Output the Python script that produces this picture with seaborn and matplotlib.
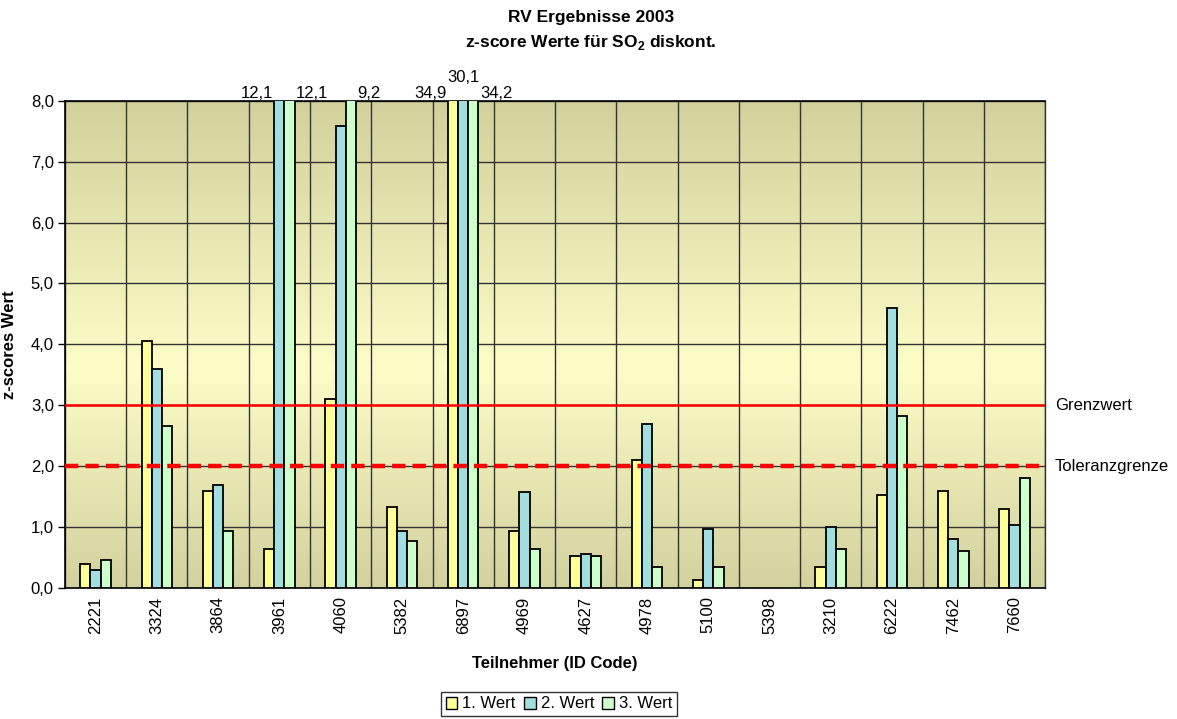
import numpy as np
import pandas as pd
import matplotlib
matplotlib.use("Agg")
import matplotlib.pyplot as plt
from matplotlib.colors import LinearSegmentedColormap
from matplotlib.ticker import FixedLocator, FuncFormatter
import seaborn as sns

# ---- data ----
participants = ["2221", "3324", "3864", "3961", "4060", "5382", "6897", "4969",
                 "4627", "4978", "5100", "5398", "3210", "6222", "7462", "7660"]
wert1 = [0.40, 4.06, 1.60, 0.64, 3.10, 1.33, 34.9, 0.94, 0.53, 2.10, 0.14, np.nan, 0.34, 1.53, 1.60, 1.30]
wert2 = [0.30, 3.60, 1.70, 12.1, 7.59, 0.94, 30.1, 1.57, 0.56, 2.70, 0.97, np.nan, 1.00, 4.59, 0.81, 1.04]
wert3 = [0.47, 2.66, 0.94, 12.1, 9.2, 0.77, 34.2, 0.64, 0.53, 0.34, 0.34, np.nan, 0.64, 2.83, 0.61, 1.80]
series_names = ["1. Wert", "2. Wert", "3. Wert"]
grenzwert = 3.0
toleranzgrenze = 2.0
y_max = 8.0

sns.set_theme(style="white")
plt.rcParams["font.family"] = ["Liberation Sans", "DejaVu Sans"]
plt.rcParams["mathtext.fontset"] = "custom"
plt.rcParams["mathtext.rm"] = "Liberation Sans"
plt.rcParams["mathtext.bf"] = "Liberation Sans:bold"
for k in ["text.color", "axes.labelcolor", "xtick.color", "ytick.color"]:
    plt.rcParams[k] = "black"

FS = 12

df = pd.DataFrame({
    "Teilnehmer": participants * 3,
    "Serie": np.repeat(series_names, len(participants)),
    "z": wert1 + wert2 + wert3,
})

fig = plt.figure(figsize=(11.77, 7.19), dpi=100)
ax = fig.add_axes([0.0552, 0.182, 0.8328, 0.678])

palette = ["#FFFF99", "#A0DEE0", "#CCFFCC"]
bar_width = 0.5
sns.barplot(data=df, x="Teilnehmer", y="z", hue="Serie", order=participants,
            hue_order=series_names, palette=palette, width=bar_width,
            edgecolor="black", linewidth=1.3, saturation=1, ax=ax, legend=True)
for p in ax.patches:
    p.set_zorder(3)

n = len(participants)
ax.set_xlim(-0.5, n - 0.5)
ax.set_ylim(0, y_max)

# gradient background
cmap = LinearSegmentedColormap.from_list(
    "bg", [(0.0, "#D3D19D"), (0.45, "#FDFDC8"), (1.0, "#D2D09B")])
grad = np.linspace(0, 1, 256).reshape(-1, 1)
ax.imshow(grad, extent=[-0.5, n - 0.5, 0, y_max], origin="lower",
          aspect="auto", cmap=cmap, zorder=0)

# grid
ax.yaxis.set_major_locator(FixedLocator(np.arange(0, y_max + 0.1, 1)))
ax.yaxis.set_major_formatter(FuncFormatter(lambda v, _: f"{v:.1f}".replace(".", ",")))
ax.xaxis.set_minor_locator(FixedLocator(np.arange(-0.5, n, 1)))
ax.grid(axis="y", which="major", color="#333333", linewidth=1.0, zorder=1)
ax.grid(axis="x", which="minor", color="#333333", linewidth=1.0, zorder=1)
ax.grid(axis="x", which="major", visible=False)
ax.set_axisbelow(True)

ax.tick_params(axis="x", which="major", length=0, labelsize=FS, rotation=90, pad=6)
ax.tick_params(axis="x", which="minor", length=6, width=1, color="#555555", direction="out")
ax.tick_params(axis="y", which="major", length=5, width=1, color="black",
               direction="out", labelsize=FS, left=True, pad=3)
for s in ["left", "bottom", "top"]:
    ax.spines[s].set_visible(True)
    ax.spines[s].set_color("black")
    ax.spines[s].set_linewidth(1.2)
ax.spines["right"].set_visible(True)
ax.spines["right"].set_color("#333333")
ax.spines["right"].set_linewidth(1.0)

# reference lines
ax.axhline(grenzwert, color="#FF0000", linewidth=1.8, zorder=4)
ax.axhline(toleranzgrenze, color="#FF0000", linewidth=3.2, linestyle=(0, (3, 1.6)), zorder=4)
ax.text(1.01, grenzwert, "Grenzwert", transform=ax.get_yaxis_transform(),
        ha="left", va="center", fontsize=FS)
ax.text(1.01, toleranzgrenze, "Toleranzgrenze", transform=ax.get_yaxis_transform(),
        ha="left", va="center", fontsize=FS)

# labels of clipped bars
w = bar_width / 3
series = [wert1, wert2, wert3]
for i in range(n):
    clipped = [not np.isnan(s[i]) and s[i] > y_max for s in series]
    for j, s in enumerate(series):
        if not clipped[j]:
            continue
        txt = f"{s[i]:.1f}".replace(".", ",")
        xc = i + (j - 1) * w
        if j == 0 or (j == 1 and not clipped[0]):
            ax.annotate(txt, (xc - w / 2, y_max), xytext=(-1, 0), textcoords="offset points",
                        ha="right", va="bottom", fontsize=FS, annotation_clip=False)
        elif j == 2:
            ax.annotate(txt, (xc + w / 2, y_max), xytext=(1, 0), textcoords="offset points",
                        ha="left", va="bottom", fontsize=FS, annotation_clip=False)
        else:
            ax.annotate(txt, (xc, y_max), xytext=(0, 11), textcoords="offset points",
                        ha="center", va="bottom", fontsize=FS, annotation_clip=False)

ax.set_xlabel("Teilnehmer (ID Code)", fontsize=FS, fontweight="bold", labelpad=16)
ax.set_ylabel("z-scores Wert", fontsize=FS, fontweight="bold")
ax.yaxis.set_label_coords(-0.049, 0.5)

fig.suptitle("RV Ergebnisse 2003\nz-score Werte für SO$_\\mathbf{2}$ diskont.", fontsize=12.5,
             fontweight="bold", x=0.502, y=1 - 10 / 719, va="top", linespacing=1.6)

handles, labels = ax.get_legend_handles_labels()
ax.get_legend().remove()
fig.legend(handles, labels, loc="lower center", bbox_to_anchor=(0.475, 0.0), ncol=3,
           frameon=True, fancybox=False, edgecolor="black", fontsize=FS,
           handlelength=0.7, handleheight=0.7, handletextpad=0.3, columnspacing=0.5,
           borderpad=0.25, borderaxespad=0.2)
leg = fig.legends[0]
leg.get_frame().set_linewidth(1.0)
for h in leg.legend_handles:
    h.set_edgecolor("black")
    h.set_linewidth(1.0)

fig.savefig("out.png", dpi=100)
